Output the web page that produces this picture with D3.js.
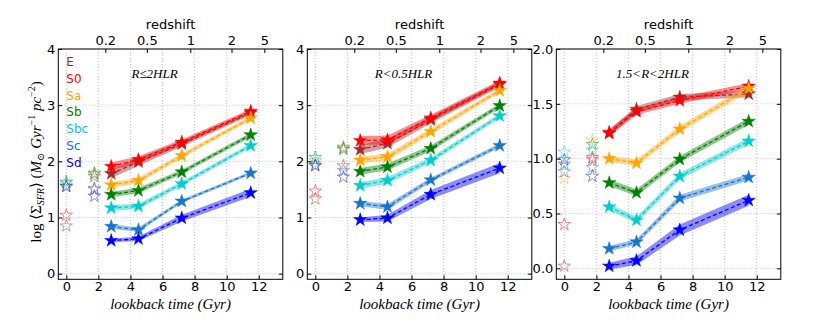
<!DOCTYPE html>
<html><head><meta charset="utf-8">
<script src="https://cdn.jsdelivr.net/npm/d3@7"></script>
<style>body{margin:0;background:#fff} svg{display:block}</style>
</head><body><svg id="c" width="830" height="329"></svg>
<script>
// ---------------- DATA ----------------
const types = ["E", "S0", "Sa", "Sb", "Sbc", "Sc", "Sd"];
const colors = ["#a52a2a", "#ff0000", "#ffa500", "#008000", "#00cdcd", "#1874cd", "#0000ff"];
const lookback = [2.8, 4.5, 7.2, 11.5];
const openX = [0, 1.75];
const xTicks = [0, 2, 4, 6, 8, 10, 12];
const zTickLabels = ["0.2", "0.5", "1", "2", "5"];
const zTickLookback = [2.43, 5.02, 7.73, 10.3, 12.35];
const regionLabels = ["R\u22642HLR", "R<0.5HLR", "1.5<R<2HLR"];
const yTicksA = [0, 1, 2, 3, 4];
const yTicksB = [0, 0.5, 1, 1.5, 2];

// Panel 1: R <= 2HLR  (rows: E, S0, Sa, Sb, Sbc, Sc, Sd; cols: lookback)
const sfr2HLR = [
  [1.78, 1.99, 2.31, 2.86],
  [1.91, 2.03, 2.34, 2.89],
  [1.58, 1.66, 2.10, 2.77],
  [1.41, 1.48, 1.81, 2.47],
  [1.17, 1.20, 1.60, 2.28],
  [0.84, 0.78, 1.29, 1.79],
  [0.59, 0.62, 0.99, 1.44]
];
const err2HLR = [
  [0.08, 0.07, 0.05, 0.04],
  [0.07, 0.06, 0.05, 0.04],
  [0.05, 0.05, 0.04, 0.04],
  [0.05, 0.05, 0.04, 0.04],
  [0.05, 0.05, 0.04, 0.04],
  [0.04, 0.04, 0.03, 0.03],
  [0.03, 0.04, 0.06, 0.07]
];
const open2HLR_z0 = [0.85, 1.04, 1.58, 1.63, 1.62, 1.56, 1.55];
const open2HLR_mid = [1.52, 1.73, 1.80, 1.78, 1.77, 1.50, 1.38];

// Panel 2: R < 0.5HLR
const sfrInner = [
  [2.21, 2.32, 2.74, 3.37],
  [2.37, 2.38, 2.77, 3.39],
  [2.02, 2.08, 2.53, 3.26],
  [1.82, 1.90, 2.23, 2.99],
  [1.57, 1.66, 2.02, 2.81],
  [1.25, 1.19, 1.67, 2.28],
  [0.96, 0.99, 1.41, 1.88]
];
const errInner = [
  [0.08, 0.08, 0.06, 0.05],
  [0.08, 0.08, 0.06, 0.05],
  [0.06, 0.06, 0.05, 0.04],
  [0.06, 0.06, 0.05, 0.04],
  [0.06, 0.06, 0.05, 0.04],
  [0.05, 0.05, 0.04, 0.04],
  [0.04, 0.06, 0.08, 0.09]
];
const openInner_z0 = [1.33, 1.47, 1.96, 2.07, 2.01, 1.93, 1.92];
const openInner_mid = [1.92, 2.21, 2.26, 2.24, 2.22, 1.84, 1.72];

// Panel 3: 1.5 < R < 2HLR
const sfrOuter = [
  [1.23, 1.45, 1.56, 1.59],
  [1.24, 1.43, 1.53, 1.66],
  [1.00, 0.96, 1.27, 1.64],
  [0.78, 0.69, 0.995, 1.34],
  [0.56, 0.44, 0.84, 1.16],
  [0.18, 0.24, 0.64, 0.83],
  [0.02, 0.07, 0.35, 0.62]
];
const errOuter = [
  [0.03, 0.03, 0.03, 0.03],
  [0.03, 0.03, 0.03, 0.03],
  [0.03, 0.03, 0.03, 0.03],
  [0.03, 0.03, 0.03, 0.03],
  [0.03, 0.03, 0.03, 0.03],
  [0.025, 0.025, 0.03, 0.03],
  [0.03, 0.04, 0.05, 0.05]
];
const openOuter_z0 = [0.02, 0.40, 0.82, 0.95, 1.06, 0.88, 0.99];
const openOuter_mid = [0.99, 1.01, 1.17, 1.13, 1.08, 0.92, 0.84];

// ---------------- LAYOUT ----------------
const svg = d3.select("#c");
const panelLeft = [58.3, 307.3, 556.3];
const panelW = 224.5, plotTop = 49, plotBottom = 279.3;
const font = "'DejaVu Sans', sans-serif";
const serif = "'Liberation Serif', 'DejaVu Serif', serif";

const panels = [
  {vals: sfr2HLR, err: err2HLR, z0: open2HLR_z0, mid: open2HLR_mid, yd: [-0.1, 4], ticks: yTicksA, fmt: d3.format("d"), label: regionLabels[0]},
  {vals: sfrInner, err: errInner, z0: openInner_z0, mid: openInner_mid, yd: [-0.1, 4], ticks: yTicksA, fmt: d3.format("d"), label: regionLabels[1]},
  {vals: sfrOuter, err: errOuter, z0: openOuter_z0, mid: openOuter_mid, yd: [-0.1, 2], ticks: yTicksB, fmt: d3.format(".1f"), label: regionLabels[2]}
];

const ka = 0.8908130915292852;
const starSize = R => R * R / ka;

panels.forEach((p, pi) => {
  const x0 = panelLeft[pi];
  const x = d3.scaleLinear().domain([-0.5, 13.5]).range([x0, x0 + panelW]);
  const y = d3.scaleLinear().domain(p.yd).range([plotBottom, plotTop]);
  const g = svg.append("g");

  // grid
  g.selectAll(".gx").data(xTicks).join("line")
    .attr("x1", d => x(d)).attr("x2", d => x(d)).attr("y1", plotTop).attr("y2", plotBottom)
    .attr("stroke", "#a0a0a0").attr("stroke-width", 0.6).attr("stroke-dasharray", "1,2");
  g.selectAll(".gy").data(p.ticks).join("line")
    .attr("x1", x0).attr("x2", x0 + panelW).attr("y1", d => y(d)).attr("y2", d => y(d))
    .attr("stroke", "#a0a0a0").attr("stroke-width", 0.6).attr("stroke-dasharray", "1,2");

  // bands, lines
  const area = d3.area().x((d, i) => x(lookback[i])).y0(d => y(d[0] - d[1])).y1(d => y(d[0] + d[1]));
  const line = d3.line().x((d, i) => x(lookback[i])).y(d => y(d));
  p.vals.forEach((row, ti) => {
    const zipped = row.map((v, i) => [v, p.err[ti][i]]);
    g.append("path").attr("d", area(zipped)).attr("fill", colors[ti]).attr("fill-opacity", 0.45).attr("stroke", "none");
    g.append("path").attr("d", line(row)).attr("fill", "none").attr("stroke", colors[ti])
      .attr("stroke-width", 1.3).attr("stroke-dasharray", "4,2.5");
  });
  const filledStar = d3.symbol().type(d3.symbolStar).size(starSize(7))();
  p.vals.forEach((row, ti) => {
    g.selectAll(null).data(row).join("path")
      .attr("d", filledStar)
      .attr("transform", (d, i) => `translate(${x(lookback[i])},${y(d)})`)
      .attr("fill", colors[ti]).attr("stroke", colors[ti]).attr("stroke-width", 0.5);
  });

  // open stars
  const openStar = d3.symbol().type(d3.symbolStar).size(starSize(6.5))();
  [p.z0, p.mid].forEach((arr, k) => {
    g.selectAll(null).data(arr).join("path")
      .attr("d", openStar)
      .attr("transform", (d, i) => `translate(${x(openX[k])},${y(d)})`)
      .attr("fill", "none").attr("stroke", (d, i) => colors[i]).attr("stroke-opacity", 0.6).attr("stroke-width", 0.8);
  });

  // frame
  g.append("rect").attr("x", x0).attr("y", plotTop).attr("width", panelW).attr("height", plotBottom - plotTop)
    .attr("fill", "none").attr("stroke", "#000").attr("stroke-width", 1);

  // bottom ticks
  const bt = g.append("g").attr("transform", `translate(0,${plotBottom})`)
    .call(d3.axisBottom(x).tickValues(xTicks).tickSizeInner(-4).tickSizeOuter(0).tickPadding(2).tickFormat(d3.format("d")));
  bt.select(".domain").remove();
  bt.selectAll("text").attr("font-family", font).attr("font-size", 13).attr("fill", "#000");
  // left ticks
  const lt = g.append("g").attr("transform", `translate(${x0},0)`)
    .call(d3.axisLeft(y).tickValues(p.ticks).tickSizeInner(-4).tickSizeOuter(0).tickPadding(3).tickFormat(p.fmt));
  lt.select(".domain").remove();
  lt.selectAll("text").attr("font-family", font).attr("font-size", 13).attr("fill", "#000");
  // right ticks
  const rt = g.append("g").attr("transform", `translate(${x0 + panelW},0)`)
    .call(d3.axisRight(y).tickValues(p.ticks).tickSizeInner(-4).tickSizeOuter(0).tickFormat(""));
  rt.select(".domain").remove();
  // top redshift ticks
  const tt = g.append("g").attr("transform", `translate(0,${plotTop})`)
    .call(d3.axisTop(x).tickValues(zTickLookback).tickSizeInner(-4).tickSizeOuter(0).tickPadding(4)
      .tickFormat((d, i) => zTickLabels[i]));
  tt.select(".domain").remove();
  tt.selectAll("text").attr("font-family", font).attr("font-size", 13).attr("fill", "#000");

  // redshift title
  g.append("text").attr("x", x0 + panelW / 2).attr("y", 29).attr("text-anchor", "middle")
    .attr("font-family", font).attr("font-size", 13).text("redshift");
  // x label
  g.append("text").attr("x", x0 + panelW / 2).attr("y", 309).attr("text-anchor", "middle")
    .attr("font-family", serif).attr("font-style", "italic").attr("font-size", 15).text("lookback time (Gyr)");
  // region label
  g.append("text").attr("x", x(5.5)).attr("y", 78).attr("text-anchor", "middle")
    .attr("font-family", serif).attr("font-style", "italic").attr("font-size", 13).text(p.label);

  // legend in first panel
  if (pi === 0) {
    g.selectAll(".leg").data(types).join("text")
      .attr("x", x0 + 8).attr("y", (d, i) => 66 + i * 16.8)
      .attr("font-family", font).attr("font-size", 12).attr("fill", (d, i) => colors[i]).text(d => d);
  }
});

// y label
const yl = svg.append("text").attr("transform", "translate(41,162) rotate(-90)")
  .attr("text-anchor", "middle").attr("font-family", serif).attr("font-size", 15);
yl.append("tspan").text("log \u27E8\u03A3");
yl.append("tspan").attr("font-style", "italic").attr("font-size", 10).attr("dy", 3).text("SFR");
yl.append("tspan").attr("dy", -3).text("\u27E9 (");
yl.append("tspan").attr("font-style", "italic").text("M");
yl.append("tspan").attr("font-size", 10).attr("dy", 3).text("\u2299");
yl.append("tspan").attr("dy", -3).attr("font-style", "italic").text(" Gyr");
yl.append("tspan").attr("font-size", 10).attr("dy", -6).text("\u22121");
yl.append("tspan").attr("dy", 6).attr("font-style", "italic").text("  pc");
yl.append("tspan").attr("font-size", 10).attr("dy", -6).text("\u22122");
yl.append("tspan").attr("dy", 6).text(")");
</script></body></html>
